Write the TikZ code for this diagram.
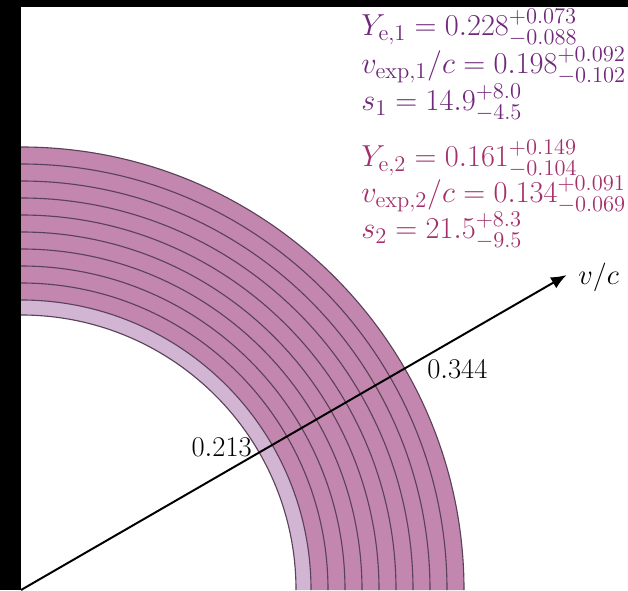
\RequirePackage{fix-cm}
\documentclass[tikz,border=0pt]{standalone}
\usepackage{amsmath}
\usepackage{xcolor}
\usepackage{tikz}
\usetikzlibrary{arrows.meta,calc}
\definecolor{shelldark}{RGB}{195,134,174}
\definecolor{shelllight}{RGB}{209,181,211}
\definecolor{shellline}{RGB}{90,66,88}
\definecolor{fitone}{RGB}{112,40,122}
\definecolor{fittwo}{RGB}{163,48,107}
\DeclareMathSizes{21.6}{21.6}{16}{11.5}
\DeclareMathSizes{20.3}{20.3}{14.4}{10}

\begin{document}
\begin{tikzpicture}[
  x=0.025cm, y=0.025cm,
  font=\fontsize{20.3}{24}\selectfont,
  shell/.style={fill=shelldark},
  shellarc/.style={draw=shellline, line width=0.8pt},
  fitrow/.style={anchor=base west, inner sep=0pt, font=\fontsize{21.6}{26}\selectfont},
  vel/.style={draw=black, line width=1.4pt, -{Latex[length=11pt, width=9pt]}}
]
\useasboundingbox (0,0) rectangle (628,590);
\fill[black] (0,0) rectangle (628,590);
\fill[white] (21,0) rectangle (628,583);
\coordinate (o) at (21,0);
\fill[shell] ([shift={(443,0)}]o) arc[start angle=0, end angle=90, radius=443]
  -- ([shift={(0,290)}]o) arc[start angle=90, end angle=0, radius=290] -- cycle;
\fill[shelllight] ([shift={(290,0)}]o) arc[start angle=0, end angle=90, radius=290]
  -- ([shift={(0,275)}]o) arc[start angle=90, end angle=0, radius=275] -- cycle;
\foreach \r in {443,426,...,290,275} {
  \draw[shellarc] ([shift={(\r,0)}]o) arc[start angle=0, end angle=90, radius=\r];
}
\coordinate (tip) at ([shift={(30:630)}]o);
\draw[vel] (o) -- (tip);
\node[anchor=base west, inner sep=0pt] (vc) at (578,305) {$v/c$};
\node[anchor=base east, inner sep=0pt] (vin) at (252,133) {$0.213$};
\node[anchor=base west, inner sep=0pt] (vout) at (427,211) {$0.344$};
\node[fitrow, text=fitone] (ye1) at (361,554) {$Y_{\mathrm{e},1}=0.228^{+0.073}_{-0.088}$};
\node[fitrow, text=fitone] (vx1) at (361,516) {$v_{\mathrm{exp},1}/c=0.198^{+0.092}_{-0.102}$};
\node[fitrow, text=fitone] (s1) at (361,479) {$s_1=14.9^{+8.0}_{-4.5}$};
\node[fitrow, text=fittwo] (ye2) at (361,423) {$Y_{\mathrm{e},2}=0.161^{+0.149}_{-0.104}$};
\node[fitrow, text=fittwo] (vx2) at (361,387) {$v_{\mathrm{exp},2}/c=0.134^{+0.091}_{-0.069}$};
\node[fitrow, text=fittwo] (s2) at (361,351) {$s_2=21.5^{+8.3}_{-9.5}$};
\end{tikzpicture}
\end{document}
